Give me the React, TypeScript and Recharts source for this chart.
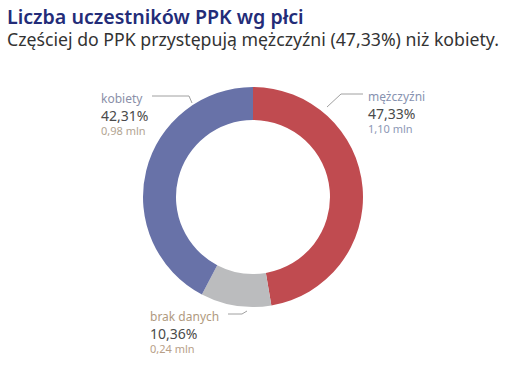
import { Cell, Pie, PieChart } from "recharts"

const categories = ["mężczyźni", "brak danych", "kobiety"]
const shares = [47.33, 10.36, 42.31]
const millions = [1.1, 0.24, 0.98]

const colors = ["#c04b50", "#bbbcbe", "#6872a8"]
const nameColors = ["#8792b0", "#b09a80", "#8a8fa8"]
const mlnColors = ["#8d98b5", "#b8a088", "#b2a492"]

// leader + text placement, relative to the pie centre
const layout = [
  { ax: 74, ay: -90, ex: 88, ey: -103, lx: 110, tx: 115 },
  { ax: -6, ay: 114, ex: -11, ey: 117, lx: -25, tx: -103 },
  { ax: -61, ay: -94, ex: -64, ey: -101, lx: -101, tx: -152 },
]

const data = categories.map((name, i) => ({ name, value: shares[i], mln: millions[i] }))

const fmt = (v: number) => v.toFixed(2).replace(".", ",")

function renderLabel(props: any) {
  const { cx, cy, index } = props
  const l = layout[index]
  const x = cx + l.tx
  const y = cy + l.ey
  return (
    <g>
      <polyline
        points={`${cx + l.ax},${cy + l.ay} ${cx + l.ex},${cy + l.ey} ${cx + l.lx},${cy + l.ey}`}
        fill="none"
        stroke="#a0a0a0"
        strokeWidth={1}
      />
      <text x={x} y={y + 6.5} fontSize={12} fill={nameColors[index]} fontFamily="Noto Sans">
        {categories[index]}
      </text>
      <text x={x} y={y + 24.5} fontSize={14} fill="#4a4a4a" fontFamily="Noto Sans">
        {fmt(shares[index])}%
      </text>
      <text x={x} y={y + 39} fontSize={11} fill={mlnColors[index]} fontFamily="Noto Sans">
        {fmt(millions[index])} mln
      </text>
    </g>
  )
}

export default function App() {
  return (
    <div style={{ position: "absolute", left: 0, top: 0, width: 527, height: 371, background: "#fff", fontFamily: "Noto Sans" }}>
      <div style={{ position: "absolute", left: 7, top: 6, fontSize: 19.6, lineHeight: "22px", fontWeight: 600, color: "#232c78", whiteSpace: "nowrap" }}>
        Liczba uczestników PPK wg płci
      </div>
      <div style={{ position: "absolute", left: 7, top: 30, fontSize: 17.7, lineHeight: "18px", color: "#333", whiteSpace: "nowrap" }}>
        Częściej do PPK przystępują mężczyźni (47,33%) niż kobiety.
      </div>
      <div style={{ position: "absolute", left: 0, top: 0 }}>
        <PieChart width={527} height={371} margin={{ top: 0, right: 0, bottom: 0, left: 0 }}>
          <Pie
            data={data}
            dataKey="value"
            nameKey="name"
            cx={253}
            cy={197}
            innerRadius={77}
            outerRadius={110}
            startAngle={90}
            endAngle={-270}
            stroke="none"
            label={renderLabel}
            labelLine={false}
            isAnimationActive={false}
          >
            {data.map((d, i) => (
              <Cell key={d.name} fill={colors[i]} />
            ))}
          </Pie>
        </PieChart>
      </div>
    </div>
  )
}
